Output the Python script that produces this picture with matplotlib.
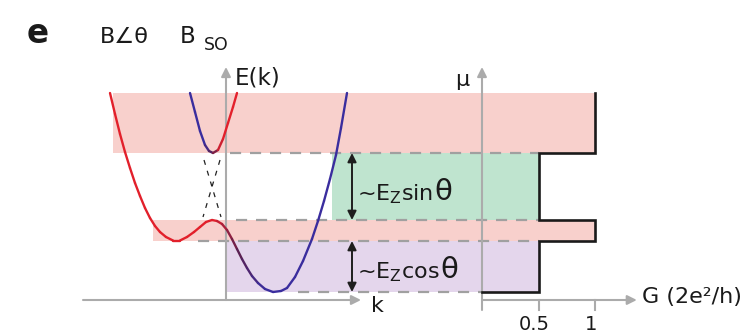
import numpy as np
import matplotlib
matplotlib.use('Agg')
import matplotlib.pyplot as plt
from matplotlib.collections import LineCollection
from matplotlib.colors import LinearSegmentedColormap

plt.rcParams['font.family'] = ['DejaVu Sans']
plt.rcParams['mathtext.fontset'] = 'dejavusans'

# ---------------- data ----------------
# lower band E(k) (arbitrary units)
lower_k = [-11.6, -11.1, -10.6, -10.1, -9.6, -9.1, -8.6, -8.1, -7.6, -7.1, -6.6, -6.0,
           -5.3, -4.6, -3.9, -3.2, -2.6, -2.0, -1.4, -0.9, -0.4, 0.1, 0.6, 1.1, 1.6,
           2.1, 2.6, 3.2, 3.9, 4.7, 5.5, 6.1, 6.9, 7.7, 8.6, 9.2, 9.8, 10.4, 11.0, 11.5, 12.1]
lower_E = [19.9, 17.8, 15.8, 14.0, 12.4, 10.9, 9.6, 8.4, 7.4, 6.6, 6.0, 5.5,
           5.15, 5.15, 5.5, 6.0, 6.5, 7.0, 7.2, 7.1, 6.8, 6.2, 5.3, 4.3, 3.3,
           2.4, 1.6, 0.9, 0.3, 0.0, 0.1, 0.4, 1.5, 3.1, 5.3, 7.1, 9.1, 11.3, 13.7, 16.4, 19.9]
# upper band E(k)
upper_k = [-3.6, -3.1, -2.6, -2.1, -1.7, -1.3, -0.8, -0.3, 0.2, 0.7, 1.1]
upper_E = [19.9, 18.0, 16.1, 14.7, 14.1, 13.9, 14.2, 15.3, 16.9, 18.5, 19.9]
# unperturbed crossing (dashed)
cross_a_k = [-2.2, -0.5]
cross_a_E = [13.2, 7.5]
cross_b_k = [-0.6, -2.3]
cross_b_E = [13.2, 7.5]

# chemical potential levels and conductance plateaus
mu_levels = [0.0, 5.1, 7.2, 13.9, 19.9]
G_plateaus = [0.5, 1.0, 0.5, 1.0]
band_colors = ['#e4d6ec', '#f8d0cc', '#bfe4cf', '#f8d0cc']
band_left_k = [0.1, -7.3, 10.6, -11.3]

dash_levels = [0.0, 5.1, 7.2, 13.9]
dash_start_k = [7.2, -2.8, 1.0, 0.4]
dash_end_G = [0.0, 0.5, 0.5, 0.5]

G_ticks = [0.5, 1.0]
G_tick_labels = ['0.5', '1']

# ---------------- figure ----------------
W, H = 751, 332
fig = plt.figure(figsize=(W / 100, H / 100), dpi=100)
ax = fig.add_axes([0, 0, 1, 1])
ax.set_xlim(-22.6, 52.5)
ax.set_ylim(-4.0, 29.2)
ax.axis('off')
ax2 = fig.add_axes([0, 0, 1, 1], sharey=ax)
ax2.set_xlim(-482 / 113, (W - 482) / 113)
ax2.axis('off')
ax2.patch.set_visible(False)


def g_to_k(g):
    pts = ax2.transData.transform(np.column_stack([np.atleast_1d(g), np.zeros(np.size(g))]))
    return ax.transData.inverted().transform(pts)[:, 0]


def P(x, y):
    return (x / W, 1 - y / H)


gray = '#ababab'

# bands
for i in range(4):
    right = g_to_k(G_plateaus[i])[0]
    ax.fill_between([band_left_k[i], right], mu_levels[i], mu_levels[i + 1],
                    color=band_colors[i], lw=0, zorder=1)

# dashed level lines
for lvl, ks, ge in zip(dash_levels, dash_start_k, dash_end_G):
    ax.plot([ks, g_to_k(ge)[0]], [lvl, lvl], color='#a0a0a0', lw=1.6,
            dashes=(5, 4), zorder=2)

# axes arrows (left panel)
ap = dict(arrowstyle='-|>', color=gray, lw=1.5, mutation_scale=14, shrinkA=0, shrinkB=0)
ax.annotate('', xy=(0, 22.5), xytext=(0, -0.8), arrowprops=ap, zorder=3)
ax.annotate('', xy=(13.5, -0.8), xytext=(-14.3, -0.8), arrowprops=ap, zorder=3)
# right panel axes
ax2.annotate('', xy=(0, 22.5), xytext=(0, -1.8), arrowprops=ap, zorder=3)
ax2.annotate('', xy=(1.37, -0.8), xytext=(0, -0.8), arrowprops=ap, zorder=3)
for g in G_ticks:
    ax2.plot([g, g], [-0.8, -1.8], color=gray, lw=1.5, zorder=3)

# band curves with colour gradient
cmap_low = LinearSegmentedColormap.from_list('low', ['#e3202b', '#e3202b', '#5b2150', '#3a2d9e', '#3a2d9e'])
cmap_up = LinearSegmentedColormap.from_list('up', ['#3a2d9e', '#3a2d9e', '#5b2150', '#e3202b', '#e3202b'])


def grad_line(kk, ee, cmap, k0, k1):
    kk = np.asarray(kk); ee = np.asarray(ee)
    pts = np.column_stack([kk, ee]).reshape(-1, 1, 2)
    segs = np.concatenate([pts[:-1], pts[1:]], axis=1)
    mid = (kk[:-1] + kk[1:]) / 2
    t = np.clip((mid - k0) / (k1 - k0), 0, 1)
    t = 0.25 + 0.5 * t
    lc = LineCollection(segs, colors=cmap(t), linewidths=1.7, capstyle='round',
                        joinstyle='round', zorder=4)
    ax.add_collection(lc)


grad_line(lower_k, lower_E, cmap_low, -1.2, 3.8)
grad_line(upper_k, upper_E, cmap_up, -2.2, -0.4)

ax.plot(cross_a_k, cross_a_E, color='#222222', lw=0.9, dashes=(4, 5), zorder=4)
ax.plot(cross_b_k, cross_b_E, color='#222222', lw=0.9, dashes=(4, 5), zorder=4)

# conductance staircase
G_path = [0.0]
mu_path = [mu_levels[0]]
for i, g in enumerate(G_plateaus):
    G_path += [g, g]
    mu_path += [mu_levels[i], mu_levels[i + 1]]
ax2.plot(G_path, mu_path, color='#1a1a1a', lw=1.9, solid_joinstyle='miter', zorder=5)

# double arrows
dap = dict(arrowstyle='<|-|>', color='#1e1e1e', lw=1.4, mutation_scale=13, shrinkA=0, shrinkB=0)
ax.annotate('', xy=(12.6, mu_levels[3]), xytext=(12.6, mu_levels[2]), arrowprops=dap, zorder=6)
ax.annotate('', xy=(12.6, mu_levels[1]), xytext=(12.6, mu_levels[0]), arrowprops=dap, zorder=6)

# texts
tk = dict(transform=ax.transAxes, color='#1a1a1a')
ax.text(*P(27, 43), 'e', fontsize=23.5, fontweight='bold', ha='left', va='baseline', **tk)
ax.text(*P(100, 43), 'B∠θ', fontsize=16, ha='left', va='baseline', **tk)
ax.text(*P(180, 43), 'B', fontsize=16.5, ha='left', va='baseline', **tk)
ax.text(*P(204, 50.5), 'SO', fontsize=12.5, ha='left', va='baseline', **tk)
ax.text(*P(235, 78), 'E(k)', fontsize=16.5, ha='left', va='center', **tk)
ax.text(*P(377, 306), 'k', fontsize=16, ha='center', va='center', **tk)
ax.text(*P(462, 80), 'μ', fontsize=16, ha='center', va='center', **tk)
ax.text(*P(642, 297), 'G (2e²/h)', fontsize=16, ha='left', va='center', **tk)
for g, lab in zip(G_ticks, G_tick_labels):
    x = ax2.transData.transform((g, 0))[0] - 4
    ax.text(x / W, 1 - 324 / H, lab, fontsize=14, ha='center', va='center', **tk)

t_s = ax.text(*P(357, 200), r'~E$_{\mathrm{Z}}$sin', fontsize=16, ha='left', va='baseline', **tk)
t_c = ax.text(*P(357, 278), r'~E$_{\mathrm{Z}}$cos', fontsize=16, ha='left', va='baseline', **tk)

fig.canvas.draw()
r = fig.canvas.get_renderer()
inv = ax.transAxes.inverted()
for t, yb in [(t_s, 200), (t_c, 278)]:
    bb = t.get_window_extent(r)
    x0 = inv.transform((bb.x1 + 1, 0))[0]
    ax.text(x0, 1 - yb / H, 'θ', fontsize=21, ha='left', va='baseline', **tk)

fig.savefig('out.png', dpi=100)
